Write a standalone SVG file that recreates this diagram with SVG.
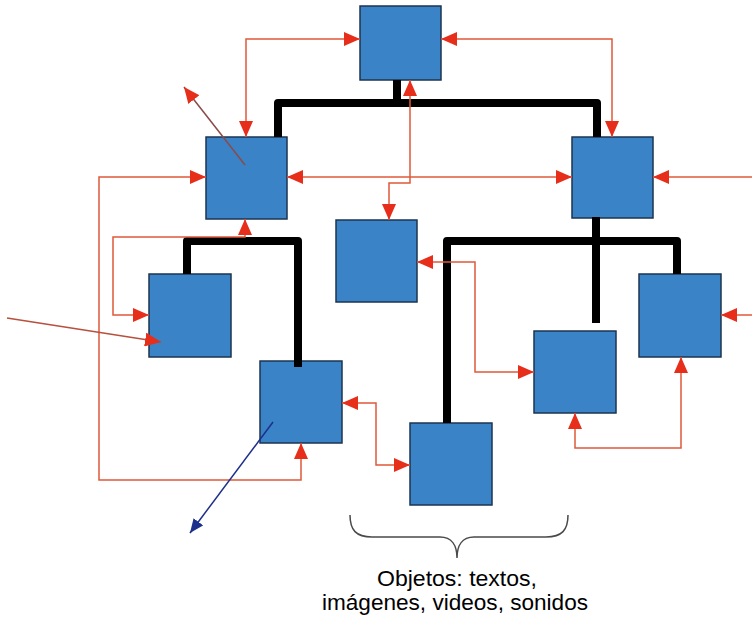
<svg xmlns="http://www.w3.org/2000/svg" width="752" height="617" viewBox="0 0 752 617">
<style>
.box{fill:#3a83c7;stroke:#1d3550;stroke-width:1.5}
.tree{fill:none;stroke:#000;stroke-width:8;stroke-linejoin:round}
.red{fill:none;stroke:#e0583a;stroke-width:1.5;marker-start:url(#ar);marker-end:url(#ar)}
.red1{fill:none;stroke:#e0583a;stroke-width:1.5;marker-end:url(#ar)}
.txt{font-family:"Liberation Sans",Arial,sans-serif;font-size:22px;fill:#000;text-anchor:middle}
</style>
<defs>
<marker id="ar" markerUnits="userSpaceOnUse" markerWidth="16" markerHeight="14" refX="16" refY="7" orient="auto-start-reverse">
<path d="M0,0 L16,7 L0,14 z" fill="#e62e1b"/>
</marker>
<marker id="ab" markerUnits="userSpaceOnUse" markerWidth="14" markerHeight="12" refX="14" refY="6" orient="auto">
<path d="M0,0 L14,6 L0,12 z" fill="#1c2f8c"/>
</marker>
</defs>
<rect width="752" height="617" fill="#fff"/>
<g id="nodeA"><rect class="box" x="360" y="6" width="81" height="74"/></g>
<g id="nodeB"><rect class="box" x="206" y="137" width="81" height="82"/></g>
<g id="nodeC"><rect class="box" x="572" y="137" width="81" height="81"/></g>
<g id="nodeD"><rect class="box" x="336" y="220" width="81" height="82"/></g>
<g id="nodeE"><rect class="box" x="149" y="274" width="82" height="83"/></g>
<g id="nodeF"><rect class="box" x="260" y="361" width="82" height="82"/></g>
<g id="nodeG"><rect class="box" x="410" y="423" width="82" height="82"/></g>
<g id="nodeH"><rect class="box" x="534" y="331" width="82" height="82"/></g>
<g id="nodeI"><rect class="box" x="639" y="274" width="82" height="83"/></g>
<g id="connectors">
<path class="tree" d="M278,137 V103 H597 V137"/>
<path class="tree" d="M397,80 V103"/>
<path class="tree" d="M187,274 V241 H298 V367"/>
<path class="tree" d="M447,423 V241 H677 V274"/>
<path class="tree" d="M596,217 V323"/>
<path class="red" d="M360,39 H246 V137"/>
<path class="red" d="M441,39 H612 V137"/>
<path class="red" d="M410,80 V183 H389 V220"/>
<path class="red" d="M287,177 H572"/>
<path class="red" d="M206,177 H99 V480 H301 V443"/>
<path class="red1" d="M752,177 H653"/>
<path class="red1" d="M752,315 H721"/>
<path class="red" d="M245,219 V237 H113 V315 H149"/>
<path class="red1" d="M7,318 L161,342" style="stroke:#b8503e"/>
<path class="red1" d="M245,165 L184,87" style="stroke:#8a4a4a"/>
<path d="M273,422 L190,533" fill="none" stroke="#1c2f8c" stroke-width="1.5" marker-end="url(#ab)"/>
<path class="red" d="M417,262 H475 V372 H534"/>
<path class="red" d="M575,413 V448 H681 V357"/>
<path class="red" d="M342,403 H376 V465 H410"/>
</g>
<g id="brace">
<path d="M350,515 C350,530 356,537 372,537 H440 C452,537 457,546 457,558 C457,546 462,537 474,537 H546 C562,537 568,530 568,515" fill="none" stroke="#4a4a4a" stroke-width="1.5"/>
</g>
<g id="label">
<text class="txt" x="457" y="586" textLength="160" lengthAdjust="spacingAndGlyphs">Objetos: textos,</text>
<text class="txt" x="455" y="610" textLength="266" lengthAdjust="spacingAndGlyphs">imágenes, videos, sonidos</text>
</g>
</svg>
